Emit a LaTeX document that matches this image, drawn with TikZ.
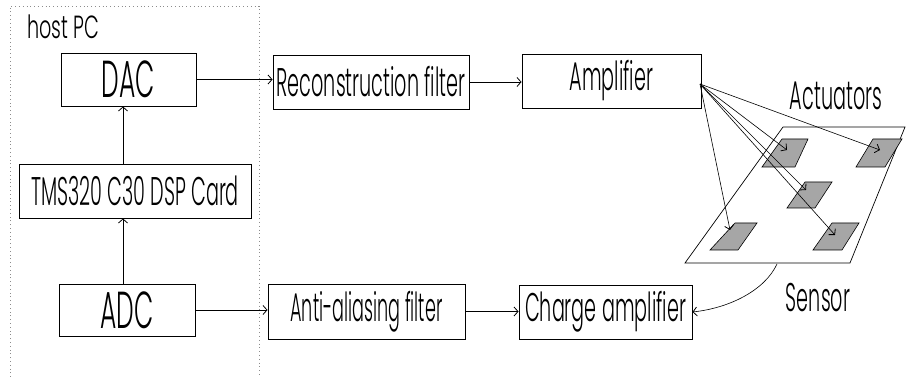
\documentclass[tikz,border=0pt]{standalone}
\usepackage{fontspec}
\setmainfont{Poppins Light}[FakeStretch=0.48]
\newfontfamily\hostfont{Poppins Light}[FakeStretch=0.6]
\newfontfamily\narrowfont{Poppins Light}[FakeStretch=0.44]
\usetikzlibrary{arrows.meta}
\begin{document}
\begin{tikzpicture}[x=1pt,y=-1pt,
  blk/.style={draw,line width=0.9pt,inner sep=0pt,font=\fontsize{40}{42}\selectfont},
  big/.style={font=\fontsize{52}{54}\selectfont},
  lbl/.style={inner sep=0pt,font=\fontsize{40}{42}\selectfont},
  conn/.style={line width=0.6pt,-{Straight Barb[length=4pt,width=9pt,line width=0.8pt]}},
  patch/.style={draw,line width=0.6pt,fill=black!35},
  hostbox/.style={draw=black!45,line width=0.6pt,dash pattern=on 0.8pt off 3pt}]
\useasboundingbox (0,0) rectangle (906,377);

% host PC frame (open at the bottom)
\draw[hostbox] (10,377) -- (10,6) -- (259,6) -- (259,377);
\node[lbl,anchor=base west,font=\hostfont\fontsize{32}{34}\selectfont] (host) at (27,39) {host PC};

% signal chain blocks
\node[blk,big,minimum width=135,minimum height=53] (dac) at (128.5,79.5) {DAC};
\node[blk,minimum width=232,minimum height=54] (dsp) at (135,191) {TMS320 C30 DSP Card};
\node[blk,big,minimum width=136,minimum height=52] (adc) at (127,310) {ADC};
\node[blk,minimum width=196,minimum height=54] (rec) at (371,82) {Reconstruction filter};
\node[blk,minimum width=179,minimum height=54] (amp) at (611.5,81) {Amplifier};
\node[blk,minimum width=197,minimum height=55,font=\narrowfont\fontsize{40}{42}\selectfont] (aaf) at (366.5,311.5) {Anti-aliasing filter};
\node[blk,minimum width=173,minimum height=54] (cha) at (605.5,312) {Charge amplifier};

\coordinate (vx) at (123,0);
\draw[conn] (adc.north -| vx) -- (dsp.south -| vx);
\draw[conn] (dsp.north -| vx) -- (dac.south -| vx);
\draw[conn] (dac.east) -- (dac.east -| rec.west);
\draw[conn] (rec.east) -- (rec.east -| amp.west);
\draw[conn] (adc.east) -- (adc.east -| aaf.west);
\draw[conn] (aaf.east) -- (aaf.east -| cha.west);

% plate with actuator patches
\draw[line width=0.7pt,fill=white] (783,127) -- (905,127) -- (850,263) -- (685,263) -- cycle;
\draw[patch] (782,139) -- (808,139) -- (795,167) -- (762,167) -- cycle;
\draw[patch] (873,139) -- (902,139) -- (885,167) -- (856,167) -- cycle;
\draw[patch] (805,182) -- (832,182) -- (815,208) -- (787,208) -- cycle;
\draw[patch] (735,223) -- (757,223) -- (738,250) -- (710,250) -- cycle;
\draw[patch] (832,223) -- (859,223) -- (842,250) -- (813,250) -- cycle;

\node[lbl] (act) at (836,96) {Actuators};
\node[lbl] (sen) at (818,298) {Sensor};

% amplifier outputs to the actuators
\coordinate (fan) at (700,84);
\coordinate (a1) at (787,150);
\coordinate (a2) at (880,150);
\coordinate (a3) at (806,190);
\coordinate (a4) at (730,230);
\coordinate (a5) at (835,235);
\foreach \t in {a1,a2,a3,a4,a5} \draw[conn] (fan) -- (\t);

% sensor signal back to the charge amplifier
\coordinate (s0) at (777,264);
\draw[conn] (s0) .. controls (765,290) and (730,308) .. (cha.east);
\end{tikzpicture}
\end{document}
